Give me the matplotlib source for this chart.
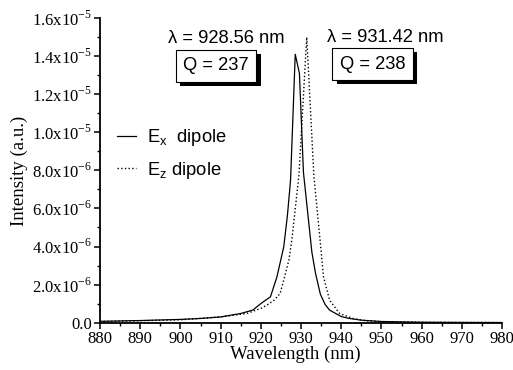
import matplotlib
matplotlib.use("Agg")
import matplotlib.pyplot as plt
import matplotlib.patheffects as pe
from matplotlib.ticker import FixedLocator, MultipleLocator

# Ex dipole spectrum (intensity in units of 1e-6)
ex_wl = [880, 890, 900, 905, 910, 915, 918, 920, 922.4, 924, 925.7, 926.6,
         927.4, 928.56, 929.6, 930.6, 931.8, 932.7, 933.6, 934.8, 936, 937.1,
         940, 942, 945, 950, 960, 970, 980]
ex_int = [0.07, 0.11, 0.17, 0.22, 0.30, 0.48, 0.66, 1.0, 1.36, 2.4, 3.98, 5.6,
          7.5, 14.1, 13.1, 7.9, 5.5, 3.7, 2.6, 1.5, 0.95, 0.66,
          0.32, 0.22, 0.13, 0.06, 0.02, 0.01, 0.005]

# Ez dipole spectrum (intensity in units of 1e-6)
ez_wl = [880, 890, 900, 910, 916.5, 920, 921.5, 923.3, 924.8, 925.7, 927,
         927.8, 929.5, 931.42, 933.2, 934.8, 935.6, 937.1, 939.6, 942.9, 946,
         950, 960, 970, 980]
ez_int = [0.05, 0.10, 0.15, 0.30, 0.48, 0.75, 0.92, 1.18, 1.53, 2.23, 3.3,
          4.5, 7.8, 15.0, 7.7, 4.2, 2.4, 1.18, 0.48, 0.22, 0.10,
          0.05, 0.02, 0.01, 0.005]

x_ticks = [880, 890, 900, 910, 920, 930, 940, 950, 960, 970, 980]
y_ticks = [0, 2e-6, 4e-6, 6e-6, 8e-6, 1e-5, 1.2e-5, 1.4e-5, 1.6e-5]
y_labels = ["0.0", "2.0x10$^{\\mathregular{-6}}$", "4.0x10$^{\\mathregular{-6}}$",
            "6.0x10$^{\\mathregular{-6}}$", "8.0x10$^{\\mathregular{-6}}$",
            "1.0x10$^{\\mathregular{-5}}$", "1.2x10$^{\\mathregular{-5}}$",
            "1.4x10$^{\\mathregular{-5}}$", "1.6x10$^{\\mathregular{-5}}$"]

peaks = [(0.169, 0.918, "\u03bb = 928.56 nm"), (0.565, 0.922, "\u03bb = 931.42 nm")]
q_boxes = [(0.289, 0.843, "Q = 237"), (0.678, 0.849, "Q = 238")]

serif = "Liberation Serif"
sans = "Liberation Sans"

fig = plt.figure(figsize=(5.13, 3.70), dpi=100)
ax = fig.add_axes([0.195, 0.128, 0.7836, 0.823])

ax.plot(ex_wl, [v * 1e-6 for v in ex_int], color="black", lw=0.9,
        label="E$_\\mathregular{x}$  dipole")
ax.plot(ez_wl, [v * 1e-6 for v in ez_int], color="black", lw=1.0, ls=":",
        label="E$_\\mathregular{z}$ dipole")

ax.set_xlim(880, 980)
ax.set_ylim(0, 1.6e-5)
ax.spines["top"].set_visible(False)
ax.spines["right"].set_visible(False)
for s in ("left", "bottom"):
    ax.spines[s].set_linewidth(1.3)

ax.xaxis.set_major_locator(FixedLocator(x_ticks))
ax.xaxis.set_minor_locator(MultipleLocator(5))
ax.yaxis.set_major_locator(FixedLocator(y_ticks))
ax.yaxis.set_minor_locator(MultipleLocator(1e-6))
ax.set_yticklabels(y_labels)
ax.tick_params(which="major", direction="out", length=4, width=1.1, pad=2,
               labelsize=12)
ax.tick_params(which="minor", direction="out", length=2.5, width=1.0)
for lab in ax.get_xticklabels() + ax.get_yticklabels():
    lab.set_fontfamily(serif)

ax.set_xlabel("Wavelength (nm)", fontfamily=serif, fontsize=13.5, labelpad=1)
ax.xaxis.set_label_coords(0.485, -0.075)
ax.set_ylabel("Intensity (a.u.)", fontfamily=serif, fontsize=13.5, labelpad=3)

for x, y, s in peaks:
    ax.text(x, y, s, transform=ax.transAxes, fontfamily=sans, fontsize=13.2,
            ha="left", va="baseline")

for x, y, s in q_boxes:
    t = ax.text(x, y, s, transform=ax.transAxes, fontfamily=sans, fontsize=13.2,
                ha="center", va="center",
                bbox=dict(boxstyle="square,pad=0.4", fc="white", ec="black", lw=0.8))
    t.get_bbox_patch().set_path_effects(
        [pe.SimplePatchShadow(offset=(3, -3), shadow_rgbFace="black", alpha=1.0),
         pe.Normal()])

leg = ax.legend(loc="upper left", bbox_to_anchor=(0.02, 0.672), frameon=False,
                prop={"family": sans, "size": 13.2}, handlelength=1.0,
                handletextpad=0.6, labelspacing=0.62, borderpad=0)

fig.savefig("out.png", dpi=100)
